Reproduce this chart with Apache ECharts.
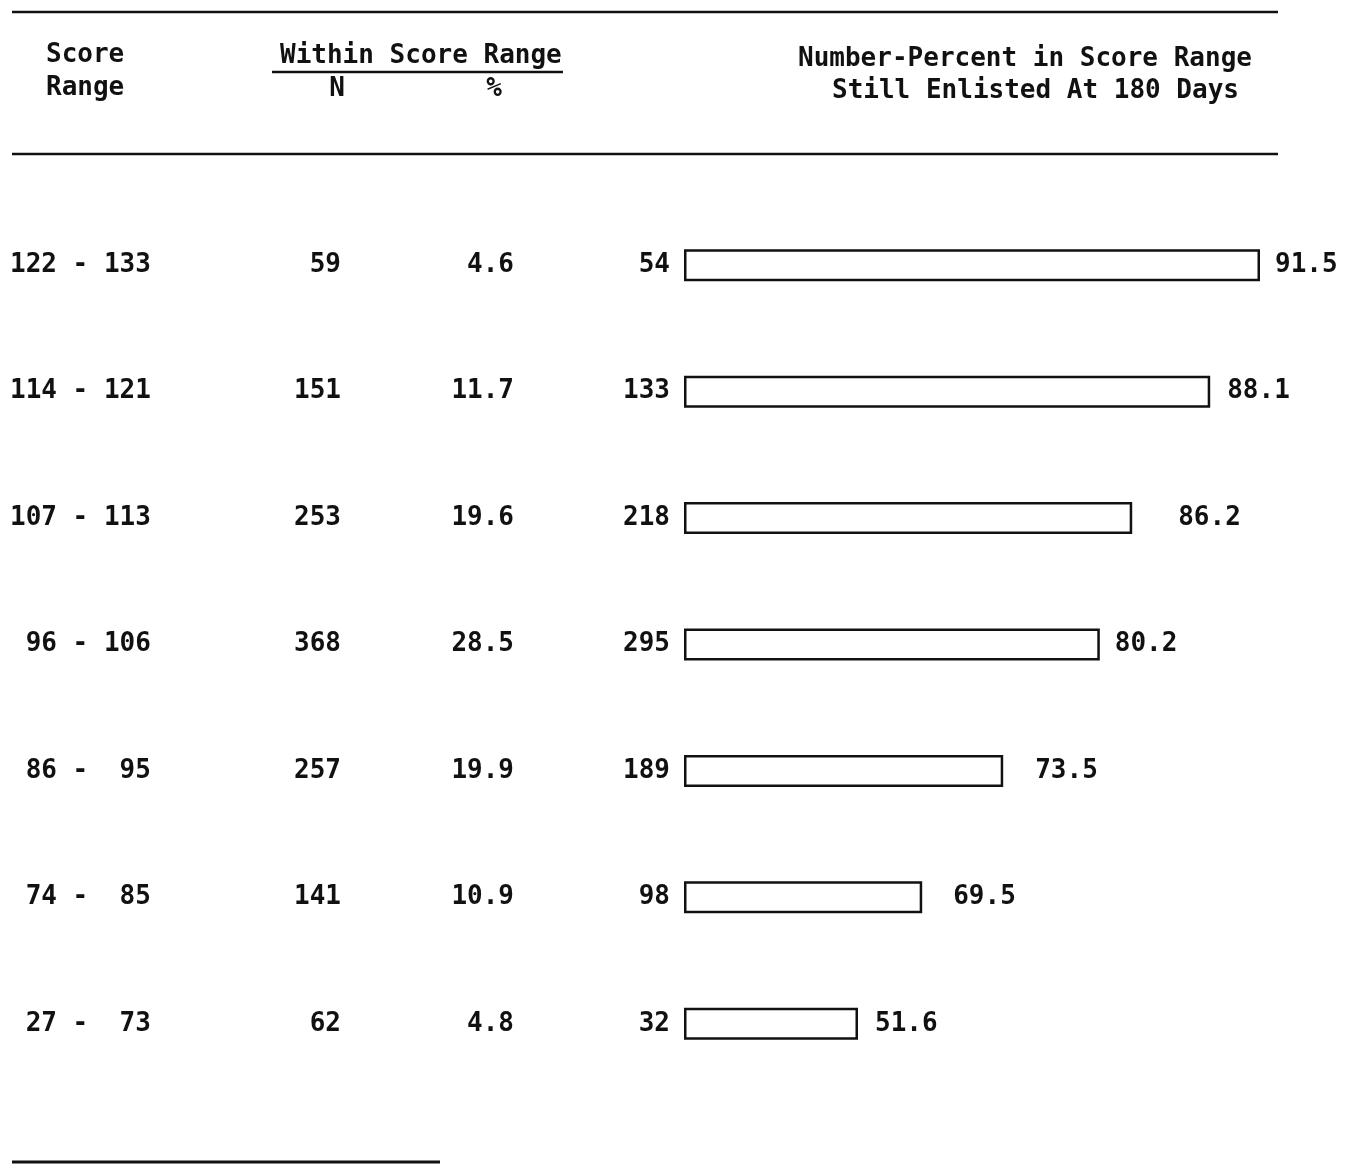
<!DOCTYPE html>
<html>
<head>
<meta charset="utf-8">
<title>Number-Percent in Score Range Still Enlisted At 180 Days</title>
<script src="https://cdn.jsdelivr.net/npm/echarts@6/dist/echarts.min.js"></script>
<style>
  html, body { margin: 0; padding: 0; background: #fff; }
  #chart { width: 1350px; height: 1164px; }
</style>
</head>
<body>
<div id="chart"></div>
<script>
    // table rows, top to bottom
    const scoreRanges = ["122 - 133", "114 - 121", "107 - 113", " 96 - 106", " 86 -  95", " 74 -  85", " 27 -  73"];
    const nWithin = [59, 151, 253, 368, 257, 141, 62];
    const pctWithin = ["4.6", "11.7", "19.6", "28.5", "19.9", "10.9", "4.8"];
    const nEnlisted = [54, 133, 218, 295, 189, 98, 32];
    const pctEnlisted = ["91.5", "88.1", "86.2", "80.2", "73.5", "69.5", "51.6"];
    // bar lengths as drawn in the original (percent of the bar area width)
    const barLength = [96.0, 87.7, 74.7, 69.3, 53.2, 39.7, 29.0];

    const FONT = "DejaVu Sans Mono";
    const INK = "#111";
    const txt = { fontFamily: FONT, fontWeight: "bold", fontSize: 26, color: INK };

    // gap between bar end and its percent label, as typed in the original
    const labelGaps = [15, 17, 46, 15, 32, 31, 17];

    var myChart = echarts.init(document.getElementById("chart"));

    // a category axis at the left of the grid, shifted left to act as a text column
    function columnAxis(labels, offset, align) {
        return {
            type: "category",
            data: labels,
            inverse: true,
            position: "left",
            offset: offset,
            axisLine: { show: false },
            axisTick: { show: false },
            axisLabel: Object.assign({ margin: 0, align: align }, txt)
        };
    }

    function hline(y, x1, x2, w) {
        return { type: "line", shape: { x1: x1, y1: y, x2: x2, y2: y }, style: { stroke: INK, lineWidth: w } };
    }

    function text(x, y, s, align) {
        return {
            type: "text", x: x, y: y,
            style: { text: s, font: "bold 26px '" + FONT + "'", fill: INK, align: align || "left", verticalAlign: "middle" }
        };
    }

    let yAxes = [
        {
            type: "category",
            data: nEnlisted.map(String),
            inverse: true,
            axisLine: { show: false },
            axisTick: { show: false },
            axisLabel: Object.assign({ margin: 14 }, txt)
        },
        columnAxis(scoreRanges, 674, "left"),
        columnAxis(nWithin.map(String), 343, "right"),
        columnAxis(pctWithin, 170, "right")
    ];

    let barData = barLength.map((v, i) => ({
        value: v,
        label: { distance: labelGaps[i] }
    }));

    let option = {
        animation: false,
        grid: { left: 684, width: 600, top: 202, height: 885 },
        xAxis: { type: "value", min: 0, max: 100, show: false },
        yAxis: yAxes,
        series: [{
            type: "bar",
            data: barData,
            barWidth: 32,
            itemStyle: { color: "#fff", borderColor: INK, borderWidth: 2.5 },
            label: Object.assign({
                show: true,
                position: "right",
                formatter: p => pctEnlisted[p.dataIndex]
            }, txt)
        }],
        graphic: [
            hline(12, 12, 1278, 2.5),
            hline(154, 12, 1278, 2.5),
            hline(1162, 12, 440, 3),
            text(46, 55, "Score"),
            text(46, 88, "Range"),
            text(280, 56, "Within Score Range"),
            hline(72, 272, 563, 2.5),
            text(337, 89, "N", "center"),
            text(494, 89, "%", "center"),
            text(798, 59, "Number-Percent in Score Range"),
            text(832, 91, "Still Enlisted At 180 Days")
        ]
    };

    option && myChart.setOption(option);
</script>
</body>
</html>
